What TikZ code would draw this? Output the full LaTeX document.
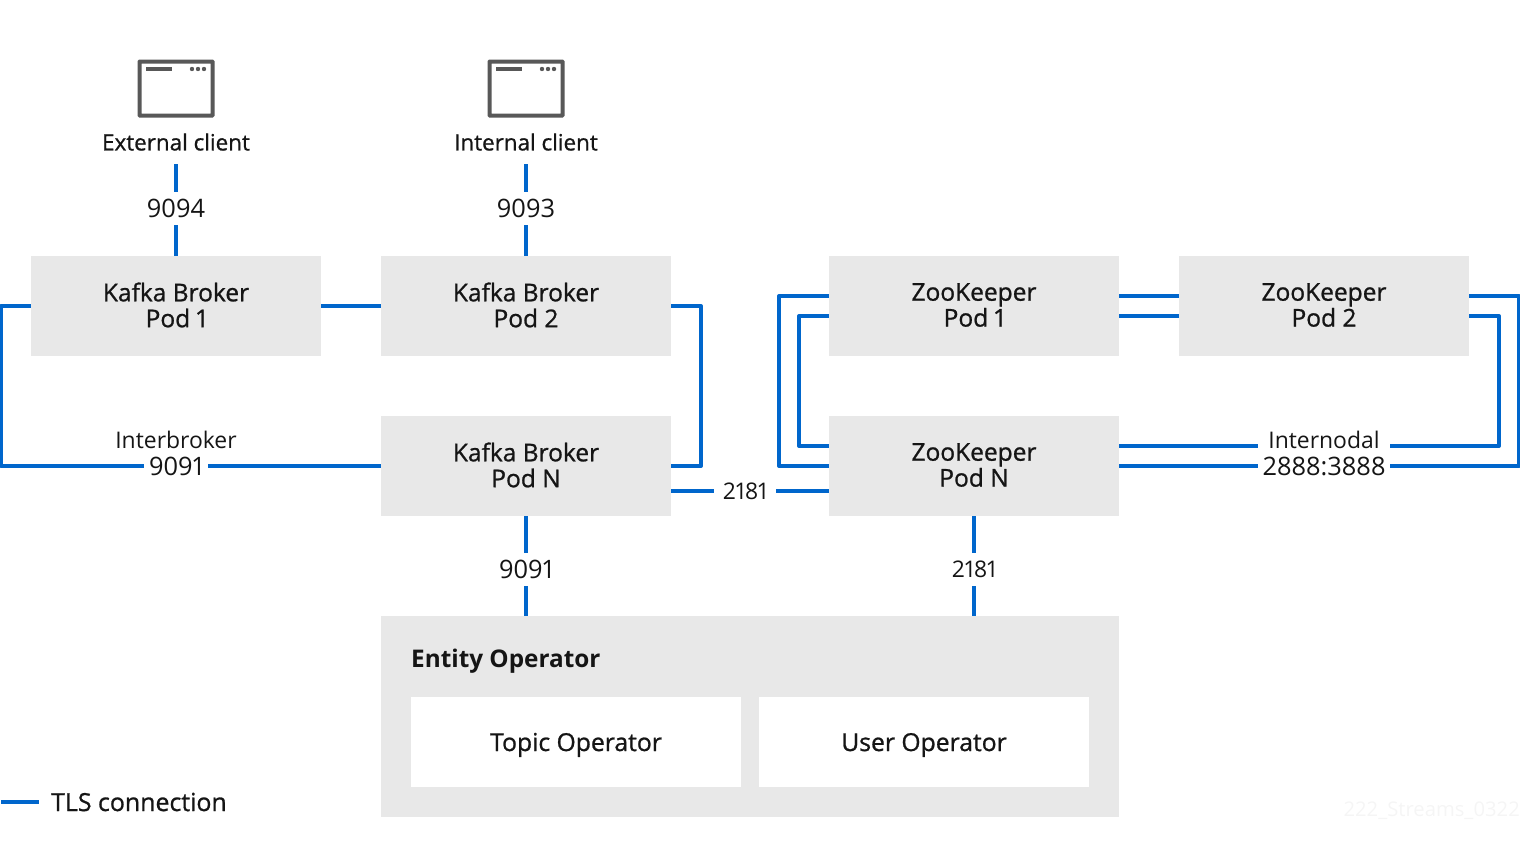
\documentclass[tikz,border=0pt]{standalone}
\usepackage{fontspec}
\setmainfont[Numbers=Proportional]{Open Sans}
\newfontfamily\medfont[FakeBold=0.9,Numbers=Proportional]{Open Sans}
\definecolor{tlsblue}{HTML}{0066CC}
\definecolor{boxgrey}{HTML}{E8E8E8}
\definecolor{inkdark}{HTML}{151515}
\definecolor{icongrey}{HTML}{585858}
\definecolor{faintmark}{HTML}{F5F5F5}
\tikzset{
  pod/.style={fill=boxgrey,minimum width=290bp,minimum height=100bp,inner sep=0},
  podtext/.style={inner sep=0,align=center,font=\fontsize{24.6}{26}\selectfont\medfont,text=inkdark},
  opbox/.style={fill=white,minimum width=330bp,minimum height=90bp,inner sep=0,text height=18bp,text depth=0bp,font=\fontsize{24.8}{26}\selectfont\medfont,text=inkdark},
  port/.style={inner sep=0,font=\fontsize{25.5}{26}\selectfont,text=inkdark},
  narrowport/.style={inner sep=0,font=\fontsize{23}{26}\selectfont,text=inkdark},
  clientlabel/.style={inner sep=0,minimum height=44bp,font=\fontsize{22.5}{26}\selectfont\medfont,text=inkdark},
  tls/.style={draw=tlsblue,line width=4bp,line join=round},
  icon/.style={draw=icongrey,line width=4bp,rounded corners=0.5bp,fill=white,minimum width=73bp,minimum height=54bp,inner sep=0},
  iconpart/.style={draw=icongrey,line width=3.4bp}
}
\begin{document}
\begin{tikzpicture}[x=1bp,y=-1bp]
\useasboundingbox (0,0) rectangle (1520,851);
% pods
\node[pod] (b1) at (176,306) {};
\node[pod] (b2) at (526,306) {};
\node[pod] (bn) at (526,466) {};
\node[pod] (z1) at (974,306) {};
\node[pod] (z2) at (1324,306) {};
\node[pod] (zn) at (974,466) {};
\node[podtext] (b1t) at (176,305) {Kafka Broker\\Pod 1};
\node[podtext] (b2t) at (526,305) {Kafka Broker\\Pod 2};
\node[podtext] (bnt) at (526,465) {Kafka Broker\\Pod N};
\node[podtext] (z1t) at (974,305) {ZooKeeper\\Pod 1};
\node[podtext] (z2t) at (1324,305) {ZooKeeper\\Pod 2};
\node[podtext] (znt) at (974,465) {ZooKeeper\\Pod N};
% entity operator
\node[fill=boxgrey,minimum width=738bp,minimum height=201bp,inner sep=0] (eo) at (750,716.5) {};
\node[inner sep=0,anchor=west,font=\fontsize{24.4}{26}\selectfont\bfseries,text=inkdark] (eot) at (411,661) {Entity Operator};
\node[opbox] (top) at (576,742) {Topic Operator};
\node[opbox] (usr) at (924,742) {User Operator};
% clients
\node[icon] (ei) at (176,88.5) {};
\node[icon] (ii) at (526,88.5) {};
\foreach \w in {ei,ii}{
  \draw[iconpart] ([shift={(-30,-19.5)}]\w.center) -- ([shift={(-4,-19.5)}]\w.center);
  \foreach \d in {16,22,28}
    \fill[icongrey] ([shift={(\d,-19.5)}]\w.center) circle (2.2bp);
}
\node[clientlabel] (ec) at (176,142) {External client};
\node[clientlabel] (ic) at (526,142) {Internal client};
% port labels
\node[port,minimum height=33bp] (p94) at (176,208.5) {9094};
\node[port,minimum height=33bp] (p93) at (526,208.5) {9093};
\node[port,minimum height=33bp] (p91) at (526,569.5) {9091};
\node[narrowport,minimum height=33bp] (p21b) at (974,569.5) {2181};
\node[narrowport,minimum width=62bp] (p21a) at (745,491) {2181};
\node[narrowport] (ibt) at (176,440) {Interbroker};
\node[port,minimum width=64bp] (ib) at (176,466) {9091};
\node[narrowport] (int) at (1324,440) {Internodal};
\node[port,minimum width=132bp] (in) at (1324,466) {2888:3888};
% connectors
\draw[tls] (ec.south) -- (p94.north);
\draw[tls] (p94.south) -- (b1.north);
\draw[tls] (ic.south) -- (p93.north);
\draw[tls] (p93.south) -- (b2.north);
\draw[tls] (b1.east) -- (b2.west);
\draw[tls] (b1.west) -- (1,306) -- (1,466) -- (ib.west);
\draw[tls] (ib.east) -- (bn.west);
\draw[tls] (b2.east) -- (701,306) -- (701,466) -- (bn.east);
\draw[tls] ([shift={(0,25)}]bn.east) -- (p21a.west);
\draw[tls] (p21a.east) -- ([shift={(0,25)}]zn.west);
\draw[tls] (bn.south) -- (p91.north);
\draw[tls] (p91.south) -- (p91.south |- eo.north);
\draw[tls] (zn.south) -- (p21b.north);
\draw[tls] (p21b.south) -- (p21b.south |- eo.north);
\draw[tls] ([shift={(0,-10)}]z1.west) -- (779,296) -- (779,466) -- (zn.west);
\draw[tls] ([shift={(0,10)}]z1.west) -- (799,316) -- (799,446) -- ([shift={(0,-20)}]zn.west);
\draw[tls] ([shift={(0,-10)}]z1.east) -- ([shift={(0,-10)}]z2.west);
\draw[tls] ([shift={(0,10)}]z1.east) -- ([shift={(0,10)}]z2.west);
\draw[tls] ([shift={(0,-10)}]z2.east) -- (1519,296) -- (1519,466) -- (in.east);
\draw[tls] (in.west) -- (zn.east);
\draw[tls] ([shift={(0,10)}]z2.east) -- (1499,316) -- (1499,446) -- ([shift={(0,-20)}]in.east);
\draw[tls] ([shift={(0,-20)}]in.west) -- ([shift={(0,-20)}]zn.east);
% legend
\coordinate (lg) at (1,802);
\node[inner sep=0,anchor=west,font=\fontsize{25}{26}\selectfont\medfont,text=inkdark] (lt) at (51,802) {TLS connection};
\draw[tls] (lg) -- ++(38,0);
% watermark
\node[inner sep=0,anchor=east,font=\fontsize{20.3}{22}\selectfont,text=faintmark] (wm) at (1520,811) {222\_Streams\_0322};
\end{tikzpicture}
\end{document}
